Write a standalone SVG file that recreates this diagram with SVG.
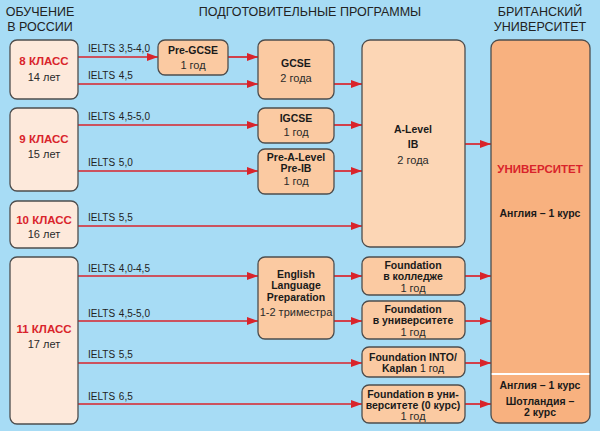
<svg xmlns="http://www.w3.org/2000/svg" width="600" height="431" viewBox="0 0 600 431">
<defs>
<marker id="ah" markerWidth="11" markerHeight="8" refX="11" refY="4" orient="auto" markerUnits="userSpaceOnUse">
<path d="M0,0 L11,4 L0,8 Z" fill="#d9242b"/>
</marker>
<style>
.bg{fill:#a7dcf5}
.box{stroke:#4d4d4d;stroke-width:1.3}
.cls{fill:#fde9db}
.prg{fill:#fbcaa2}
.alv{fill:#fcd6b5}
.uni{fill:#f8b17f}
.hd{font-family:"Liberation Sans",Arial,sans-serif;font-size:12.5px;fill:#222;text-anchor:middle}
.b{font-family:"Liberation Sans",Arial,sans-serif;font-size:10.5px;font-weight:bold;fill:#1a1a1a;text-anchor:middle}
.r{font-family:"Liberation Sans",Arial,sans-serif;font-size:11px;fill:#2a2a2a;text-anchor:middle}
.red{font-family:"Liberation Sans",Arial,sans-serif;font-size:11.5px;font-weight:bold;fill:#d9242b;text-anchor:middle}
.lb{font-family:"Liberation Sans",Arial,sans-serif;font-size:10px;fill:#222;word-spacing:1px}
.ar{stroke:#d9242b;stroke-width:1.7;fill:none;marker-end:url(#ah)}
</style>
</defs>
<rect class="bg" x="0" y="0" width="600" height="431"/>

<g id="headers">
<text class="hd" x="40" y="16">ОБУЧЕНИЕ</text>
<text class="hd" x="40" y="31">В РОССИИ</text>
<text class="hd" x="310" y="16">ПОДГОТОВИТЕЛЬНЫЕ ПРОГРАММЫ</text>
<text class="hd" x="540" y="16">БРИТАНСКИЙ</text>
<text class="hd" x="540" y="31">УНИВЕРСИТЕТ</text>
</g>

<g id="connectors">
<line class="ar" x1="78" y1="57" x2="158" y2="57"/>
<line class="ar" x1="228" y1="57" x2="258" y2="57"/>
<line class="ar" x1="78" y1="84" x2="258" y2="84"/>
<line class="ar" x1="334" y1="84" x2="362" y2="84"/>
<line class="ar" x1="78" y1="125" x2="258" y2="125"/>
<line class="ar" x1="334" y1="125" x2="362" y2="125"/>
<line class="ar" x1="78" y1="171" x2="258" y2="171"/>
<line class="ar" x1="334" y1="171" x2="362" y2="171"/>
<line class="ar" x1="78" y1="226" x2="362" y2="226"/>
<line class="ar" x1="465" y1="144" x2="491" y2="144"/>
<line class="ar" x1="78" y1="276" x2="258" y2="276"/>
<line class="ar" x1="78" y1="321" x2="258" y2="321"/>
<line class="ar" x1="78" y1="363" x2="362" y2="363"/>
<line class="ar" x1="78" y1="404" x2="362" y2="404"/>
<line class="ar" x1="334" y1="276" x2="362" y2="276"/>
<line class="ar" x1="334" y1="321" x2="362" y2="321"/>
<line class="ar" x1="465" y1="276" x2="491" y2="276"/>
<line class="ar" x1="465" y1="321" x2="491" y2="321"/>
<line class="ar" x1="465" y1="363" x2="491" y2="363"/>
<line class="ar" x1="465" y1="404" x2="491" y2="404"/>
<text class="lb" x="88" y="52">IELTS 3,5-4,0</text>
<text class="lb" x="88" y="79">IELTS 4,5</text>
<text class="lb" x="88" y="120">IELTS 4,5-5,0</text>
<text class="lb" x="88" y="166">IELTS 5,0</text>
<text class="lb" x="88" y="221">IELTS 5,5</text>
<text class="lb" x="88" y="272">IELTS 4,0-4,5</text>
<text class="lb" x="88" y="317">IELTS 4,5-5,0</text>
<text class="lb" x="88" y="358">IELTS 5,5</text>
<text class="lb" x="88" y="400">IELTS 6,5</text>
</g>

<g id="class8">
<rect class="box cls" x="10" y="40" width="68" height="59" rx="7"/>
<text class="red" x="44" y="65">8 КЛАСС</text>
<text class="r" x="44" y="81">14 лет</text>
</g>
<g id="class9">
<rect class="box cls" x="10" y="108" width="68" height="83" rx="7"/>
<text class="red" x="44" y="143">9 КЛАСС</text>
<text class="r" x="44" y="158">15 лет</text>
</g>
<g id="class10">
<rect class="box cls" x="10" y="201" width="68" height="47" rx="7"/>
<text class="red" x="44" y="224">10 КЛАСС</text>
<text class="r" x="44" y="238">16 лет</text>
</g>
<g id="class11">
<rect class="box cls" x="10" y="257" width="68" height="167" rx="7"/>
<text class="red" x="44" y="333">11 КЛАСС</text>
<text class="r" x="44" y="348">17 лет</text>
</g>

<g id="pregcse">
<rect class="box prg" x="158" y="40" width="70" height="35" rx="7"/>
<text class="b" x="193" y="54">Pre-GCSE</text>
<text class="r" x="193" y="69">1 год</text>
</g>
<g id="gcse">
<rect class="box prg" x="258" y="40" width="76" height="59" rx="7"/>
<text class="b" x="296" y="67">GCSE</text>
<text class="r" x="296" y="82">2 года</text>
</g>
<g id="igcse">
<rect class="box prg" x="258" y="108" width="76" height="35" rx="7"/>
<text class="b" x="296" y="122">IGCSE</text>
<text class="r" x="296" y="136">1 год</text>
</g>
<g id="prealevel">
<rect class="box prg" x="258" y="149" width="76" height="45" rx="7"/>
<text class="b" x="296" y="161">Pre-A-Level</text>
<text class="b" x="296" y="172">Pre-IB</text>
<text class="r" x="296" y="185">1 год</text>
</g>
<g id="alevel">
<rect class="box alv" x="362" y="40" width="103" height="207" rx="8"/>
<text class="b" x="413" y="133">A-Level</text>
<text class="b" x="413" y="148">IB</text>
<text class="r" x="413" y="164">2 года</text>
</g>

<g id="english">
<rect class="box prg" x="258" y="257" width="76" height="82" rx="7"/>
<text class="b" x="296" y="278">English</text>
<text class="b" x="296" y="289">Language</text>
<text class="b" x="296" y="301">Preparation</text>
<text class="r" x="296" y="316">1-2 триместра</text>
</g>
<g id="fcollege">
<rect class="box prg" x="362" y="257" width="103" height="38" rx="7"/>
<text class="b" x="413" y="269">Foundation</text>
<text class="b" x="413" y="280">в колледже</text>
<text class="r" x="413" y="292">1 год</text>
</g>
<g id="funiv">
<rect class="box prg" x="362" y="301" width="103" height="38" rx="7"/>
<text class="b" x="413" y="313">Foundation</text>
<text class="b" x="413" y="324">в университете</text>
<text class="r" x="413" y="336">1 год</text>
</g>
<g id="finto">
<rect class="box prg" x="362" y="347" width="103" height="30" rx="7"/>
<text class="b" x="413" y="361">Foundation INTO/</text>
<text class="b" x="413" y="372">Kaplan <tspan font-weight="normal">1 год</tspan></text>
</g>
<g id="fzero">
<rect class="box prg" x="362" y="385" width="103" height="38" rx="7"/>
<text class="b" x="413" y="398">Foundation в уни-</text>
<text class="b" x="413" y="409">верситете (0 курс)</text>
<text class="r" x="413" y="420">1 год</text>
</g>

<g id="university">
<rect class="box uni" x="491" y="40" width="99" height="383" rx="8"/>
<line x1="491.7" y1="374" x2="589.3" y2="374" stroke="#ffffff" stroke-width="2"/>
<text class="red" x="540" y="173" font-size="11px">УНИВЕРСИТЕТ</text>
<text class="b" x="540" y="217">Англия – 1 курс</text>
<text class="b" x="540" y="389">Англия – 1 курс</text>
<text class="b" x="540" y="405">Шотландия –</text>
<text class="b" x="540" y="416">2 курс</text>
</g>
</svg>
